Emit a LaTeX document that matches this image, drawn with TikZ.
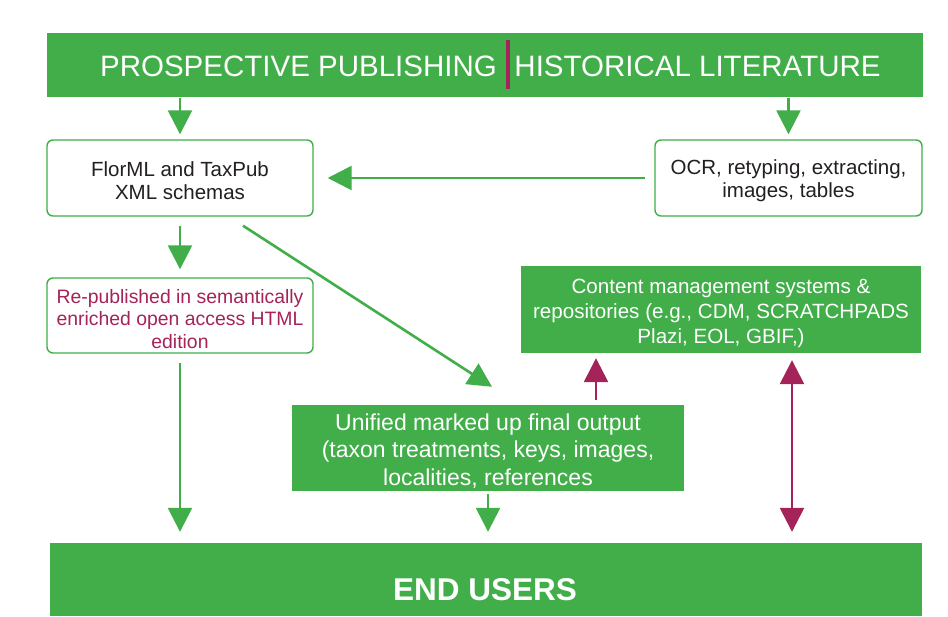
\documentclass[tikz,border=0pt]{standalone}
\usepackage{fontspec}
\setmainfont{Liberation Sans}
\usetikzlibrary{arrows.meta,calc}
\definecolor{cgreen}{RGB}{65,174,73}
\definecolor{cmag}{RGB}{164,35,88}
\definecolor{ctext}{RGB}{35,31,32}
\newcommand{\tstrut}[1]{\rule{0pt}{#1}}
\begin{document}
\begin{tikzpicture}[x=1pt,y=-1pt,
  bar/.style={fill=cgreen,draw=none,inner sep=0pt},
  obox/.style={draw=cgreen,line width=1.4pt,rounded corners=6pt,fill=white,align=center,inner sep=0pt,text=ctext,font=\fontsize{20.5}{23}\selectfont},
  gbox/.style={fill=cgreen,align=center,text=white,inner sep=0pt},
  garrow/.style={draw=cgreen,line width=2.6pt,-{Triangle[width=24pt,length=24pt]}},
  marrow/.style={draw=cmag,line width=2.6pt,-{Triangle[width=24pt,length=24pt]}},
  mdarrow/.style={draw=cmag,line width=2.6pt,{Triangle[width=24pt,length=24pt]}-{Triangle[width=24pt,length=24pt]}}
]
\useasboundingbox (0,0) rectangle (948,617);
% top bar
\node[bar,minimum width=876pt,minimum height=64pt] (top) at (485,65) {};
\node[text=white,font=\fontsize{29.5}{32}\selectfont,inner sep=0pt] (tl) at (298.5,66) {PROSPECTIVE PUBLISHING};
\node[text=white,font=\fontsize{29.5}{32}\selectfont,inner sep=0pt] (tr) at (697.5,66) {HISTORICAL LITERATURE};
\node[fill=cmag,minimum width=3.5pt,minimum height=49pt,inner sep=0pt] (div) at (508,64.5) {};
% boxes
\node[obox,minimum width=266pt,minimum height=76pt] (flor) at (180,178) {\tstrut{21pt}FlorML and TaxPub\\XML schemas};
\node[obox,minimum width=267pt,minimum height=76pt] (ocr) at (788.5,178) {\tstrut{21pt}OCR, retyping, extracting,\\images, tables};
\node[obox,minimum width=266pt,minimum height=75pt,text=cmag,font=\fontsize{19.4}{22.5}\selectfont] (repub) at (180,315.5) {\tstrut{20.2pt}Re-published in semantically\\enriched open access HTML\\edition};
\node[gbox,minimum width=400pt,minimum height=87pt,font=\fontsize{20.6}{25}\selectfont] (cms) at (721,309.5) {\tstrut{23pt}Content management systems \&\\repositories (e.g., CDM, SCRATCHPADS\\Plazi, EOL, GBIF,)};
\node[gbox,minimum width=392pt,minimum height=86pt,font=\fontsize{23}{27.5}\selectfont] (unified) at (488,448) {\tstrut{22pt}Unified marked up final output\\(taxon treatments, keys, images,\\localities, references};
\node[bar,minimum width=872pt,minimum height=73pt] (end) at (486,579.5) {};
\node[text=white,font=\fontsize{31.5}{34}\selectfont\bfseries,inner sep=0pt] (endtxt) at (485,590) {END USERS};
% arrows
\draw[garrow,shorten <=1pt,shorten >=5pt] (flor.north |- top.south) -- (flor.north);
\draw[garrow,shorten <=1pt,shorten >=5pt] (ocr.north |- top.south) -- (ocr.north);
\draw[garrow,shorten <=9pt,shorten >=14pt] (ocr.west) -- (flor.east);
\draw[garrow,shorten <=9pt,shorten >=8pt] (flor.south) -- (repub.north);
\draw[garrow] ($(flor.south)+(63,9)$) -- ($(unified.north)+(4,-18)$);
\draw[garrow,shorten <=9pt,shorten >=11pt] (repub.south) -- (repub.south |- end.north);
\draw[garrow,shorten <=3pt,shorten >=11pt] (unified.south) -- (unified.south |- end.north);
\coordinate (mx) at (596,0);
\coordinate (dx) at (792,0);
\draw[marrow,shorten <=5pt,shorten >=5pt] (mx |- unified.north) -- (mx |- cms.south);
\draw[mdarrow,shorten <=7pt,shorten >=11pt] (dx |- cms.south) -- (dx |- end.north);
\end{tikzpicture}
\end{document}
